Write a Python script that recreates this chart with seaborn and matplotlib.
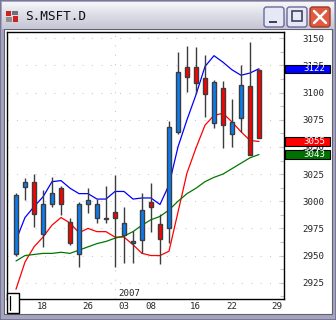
import numpy as np
import pandas as pd
import matplotlib
matplotlib.use("Agg")
import matplotlib.pyplot as plt
import matplotlib.transforms as mtrans
from matplotlib.patches import Rectangle, FancyBboxPatch
from matplotlib.ticker import MultipleLocator
import seaborn as sns

# ---------------- data ----------------
dates = ["12-14", "12-15", "12-18", "12-19", "12-20", "12-21", "12-22", "12-26",
         "12-27", "12-28", "12-29", "01-03", "01-04", "01-05", "01-08", "01-09",
         "01-10", "01-11", "01-12", "01-16", "01-17", "01-18", "01-19", "01-22",
         "01-23", "01-24", "01-25", "01-26"]
opens = [2951, 3013, 3018, 2970, 2997, 3012, 2981, 2951, 2997, 2985, 2984, 2990, 2969, 2962,
         2964, 2999, 2979, 2975, 3064, 3124, 3124, 3113, 3072, 3104, 3062, 3077, 3106, 3121]
highs = [3008, 3021, 3025, 3010, 3022, 3014, 2985, 2999, 3012, 3002, 3014, 3024, 2995, 2973,
         3008, 3017, 2988, 3074, 3137, 3143, 3142, 3135, 3112, 3111, 3094, 3125, 3147, 3122]
lows = [2950, 3001, 2976, 2958, 2995, 2987, 2960, 2939, 2989, 2980, 2980, 2939, 2943, 2943,
        2952, 2972, 2942, 2962, 3062, 3101, 3100, 3078, 3067, 3049, 3050, 3064, 3043, 3058]
closes = [3006, 3018, 2988, 2997, 3008, 2997, 2962, 2997, 3001, 2997, 2985, 2985, 2980, 2963,
          2992, 2995, 2965, 3068, 3119, 3114, 3109, 3099, 3110, 3070, 3073, 3107, 3043, 3058]
ma_blue = [2964, 2985, 2995, 3004, 3018, 3019, 3012, 3007, 3007, 3002, 3002, 3009, 3009, 3002,
           3003, 3003, 2997, 3015, 3050, 3075, 3098, 3124, 3134, 3128, 3121, 3116, 3118, 3122]
ma_red = [2919, 2944, 2958, 2967, 2978, 2985, 2980, 2971, 2975, 2972, 2972, 2967, 2967, 2960,
          2952, 2950, 2950, 2954, 2990, 3026, 3049, 3070, 3079, 3081, 3073, 3064, 3056, 3055]
ma_green = [2945, 2950, 2951, 2952, 2952, 2953, 2952, 2955, 2958, 2961, 2963, 2966, 2968, 2972,
            2978, 2983, 2986, 2992, 3000, 3007, 3012, 3018, 3022, 3025, 3030, 3035, 3040, 3043]
date_tick_labels = ["18", "26", "03", "08", "16", "22", "29"]
date_tick_pos = [2, 7, 11, 14, 19, 23, 28]
year_label = "2007"
year_pos = 11
y_ticks = [2925, 2950, 2975, 3000, 3025, 3050, 3075, 3100, 3125, 3150]
last_values = [3122, 3055, 3043]
last_colors = ["#0000ff", "#ff0000", "#007000"]
title = "S.MSFT.D"

# ---------------- figure ----------------
W, H = 336, 320
sns.set_style("white")
plt.rcParams["font.family"] = ["DejaVu Sans", "DejaVu Sans Mono"]
fig = plt.figure(figsize=(W / 100, H / 100), dpi=100, facecolor="#a4a4be")


def R(x, y, w, h, **kw):
    r = Rectangle((x / W, 1 - (y + h) / H), w / W, h / H, transform=fig.transFigure, **kw)
    fig.add_artist(r)
    return r


# window chrome
R(0, 0, W, H, facecolor="#a4a4be", edgecolor="#70708e", lw=1.2, zorder=-20)
R(4, 29, 328, 285, facecolor="white", edgecolor="#606070", lw=0.8, zorder=-10)

tb = fig.add_axes([0.006, 1 - 29 / H, 0.988, 27 / H], zorder=-5)
grad = np.linspace(0, 1, 50).reshape(-1, 1)
tb.imshow(grad, aspect="auto", cmap=matplotlib.colors.LinearSegmentedColormap.from_list(
    "tb", ["#f6f6fa", "#dcdce6", "#c6c6d4"]), extent=[0, 1, 0, 1])
tb.set_axis_off()

# icon
R(6, 11, 5, 5, facecolor="#d02020", lw=0, zorder=3)
R(12, 11, 6, 4, facecolor="#707070", lw=0, zorder=3)
R(6, 17, 6, 5, facecolor="#909090", lw=0, zorder=3)
R(13, 16, 5, 6, facecolor="#d02020", lw=0, zorder=3)
fig.text(25 / W, 1 - 16.5 / H, title, fontsize=9.2, family="DejaVu Sans Mono",
         va="center", ha="left", color="#101010")


def button(x, face, edge):
    b = FancyBboxPatch((x / W, 1 - 27 / H), 20 / W, 20 / H,
                       boxstyle="round,pad=0,rounding_size=0.008",
                       transform=fig.transFigure, facecolor=face, edgecolor=edge, lw=1, zorder=3)
    fig.add_artist(b)


button(264, "#e6e8f6", "#6a6a96")
button(287, "#e6e8f6", "#6a6a96")
button(310, "#e05a40", "#9a3a2a")
R(269, 21, 8, 2, facecolor="#404060", lw=0, zorder=4)
R(292, 11, 10, 10, facecolor="none", edgecolor="#404060", lw=1.2, zorder=4)
fig.add_artist(plt.Line2D([314 / W, 326 / W], [1 - 11 / H, 1 - 23 / H], color="white", lw=1.8,
                          transform=fig.transFigure, zorder=4))
fig.add_artist(plt.Line2D([314 / W, 326 / W], [1 - 23 / H, 1 - 11 / H], color="white", lw=1.8,
                          transform=fig.transFigure, zorder=4))

# ---------------- main plot ----------------
ax = fig.add_axes([7 / W, 1 - 299 / H, 277 / W, 267 / H], facecolor="white")
idx = np.arange(len(dates))

df = pd.DataFrame({
    "idx": np.concatenate([idx, idx, idx]),
    "value": ma_blue + ma_red + ma_green,
    "ma": ["blue"] * len(idx) + ["red"] * len(idx) + ["green"] * len(idx),
})
sns.lineplot(data=df, x="idx", y="value", hue="ma",
             palette={"blue": "#0000ff", "red": "#ff0000", "green": "#007800"},
             legend=False, linewidth=0.9, ax=ax, zorder=2)

o = np.array(opens); c = np.array(closes)
body_col = ["#0a7df5" if cc >= oo else "#ff0000" for oo, cc in zip(o, c)]
ax.vlines(idx, lows, highs, color="#3c3c3c", lw=1.0, zorder=3)
ax.bar(idx, np.maximum(np.abs(c - o), 0.9), bottom=np.minimum(o, c), width=0.55,
       color=body_col, edgecolor="#3c3c3c", linewidth=1.0, zorder=4)

ax.set_xlim(-1, 29.78)
ax.set_ylim(2910.0, 3155.8)
ax.set_xlabel("")
ax.set_ylabel("")

for s in ax.spines.values():
    s.set_color("black")
    s.set_linewidth(1.0)

# y axis on the right
ax.yaxis.tick_right()
ax.set_yticks(y_ticks)
ax.set_yticklabels([str(v) for v in y_ticks], family="DejaVu Sans Mono", fontsize=6.6)
ax.yaxis.set_minor_locator(MultipleLocator(12.5))
ax.tick_params(axis="y", which="both", direction="in", length=3, width=0.8,
               color="#c4c4c4", pad=13.5, right=True, left=False)
ax.yaxis.grid(True, color="#c8c8c8", linestyle=(0, (1, 8)), lw=0.75)
ax.axvline(year_pos, color="#c8c8c8", linestyle=(0, (1, 8)), lw=0.75, zorder=1)

# x axis
ax.set_xticks(date_tick_pos)
ax.set_xticklabels([""] * len(date_tick_pos))
ax.tick_params(axis="x", direction="out", length=9.8, width=0.9, color="black")
for p, lab in zip(date_tick_pos, date_tick_labels):
    ax.annotate(lab, xy=(p, 0), xycoords=("data", "axes fraction"), xytext=(2.4, -5.2),
                textcoords="offset points", ha="left", va="center",
                family="DejaVu Sans Mono", fontsize=6.6, annotation_clip=False)
ax.annotate(year_label, xy=(year_pos, 0), xycoords=("data", "axes fraction"), xytext=(2.6, 0.6),
            textcoords="offset points", ha="left", va="bottom",
            family="DejaVu Sans Mono", fontsize=6.6)

# last-value tags
bt = mtrans.blended_transform_factory(fig.transFigure, ax.transData)
hh = 4.1 / 1.0864
for v, col in zip(last_values, last_colors):
    fig.add_artist(Rectangle((285 / W, v - hh), 45 / W, 2 * hh, transform=bt,
                             facecolor=col, edgecolor="black", lw=0.8, zorder=5))
    fig.add_artist(matplotlib.text.Text(303 / W, v, str(v), transform=bt, color="white",
                                        family="DejaVu Sans Mono", fontsize=6.6,
                                        ha="left", va="center", zorder=6))

# bottom-left box
R(7, 293, 12, 20, facecolor="white", edgecolor="black", lw=1.0, zorder=5)
fig.add_artist(plt.Line2D([9.5 / W, 9.5 / W], [1 - 296 / H, 1 - 310 / H], color="black", lw=0.9,
                          transform=fig.transFigure, zorder=6))

fig.savefig("out.png", dpi=100, facecolor=fig.get_facecolor())
